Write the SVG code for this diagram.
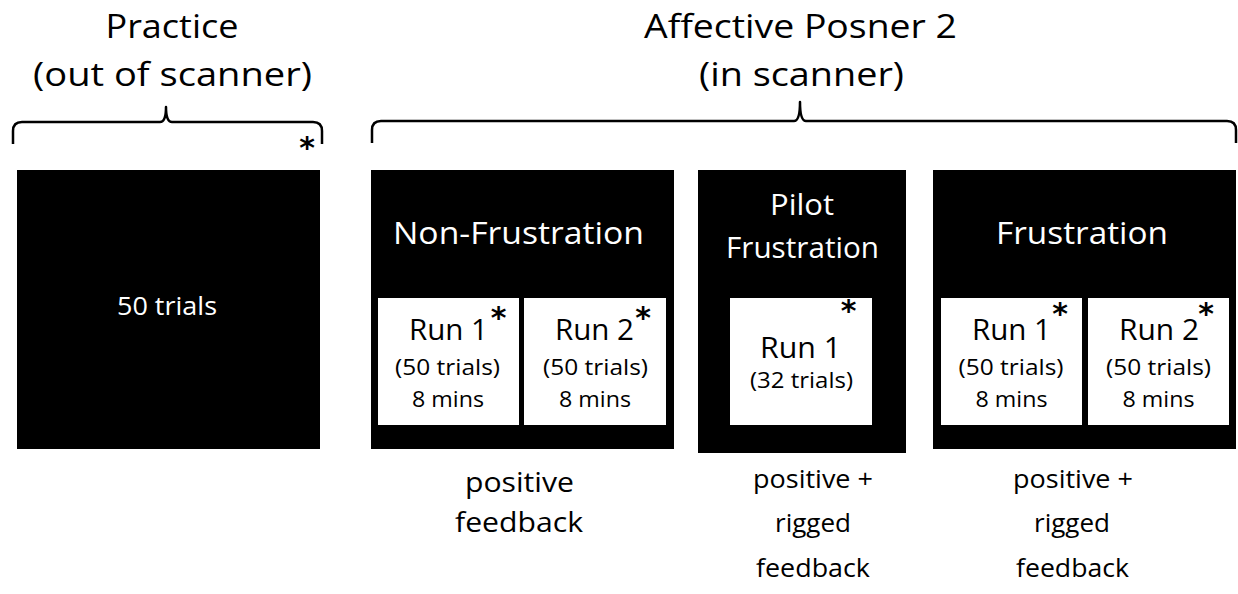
<svg xmlns="http://www.w3.org/2000/svg" width="1238" height="594" viewBox="0 0 1238 594">
<style>
text { font-family: "Open Sans", "Noto Sans", sans-serif; text-anchor: middle; fill: #000; }
.wt { fill: #fff; }
.blk { fill: #000; }
.wbox { fill: #fff; }
.ast { font-family: "DejaVu Sans", sans-serif; font-size: 30px; font-weight: bold; }
.brace { fill: none; stroke: #000; stroke-width: 2.5; stroke-linejoin: round; }
.h { font-size: 33px; }
.title { font-size: 31px; }
.run { font-size: 29px; }
.sub { font-size: 22px; }
.fb { font-size: 27px; }
.fb2 { font-size: 25px; }
</style>
<rect width="1238" height="594" fill="#fff"/>

<g id="connectors">
  <path class="brace" d="M13,144 L13,131 Q13,122 22,122 L160,122 Q166,122 166,107 Q166,122 172,122 L313,122 Q322,122 322,131 L322,144"/>
  <path class="brace" d="M372,143 L372,130 Q372,121 381,121 L794,121 Q800,121 800,102 Q800,121 806,121 L1227,121 Q1236,121 1236,130 L1236,143"/>
</g>

<g id="header-practice">
  <text class="h" x="172" y="38" textLength="133" lengthAdjust="spacingAndGlyphs">Practice</text>
  <text class="h" x="172.5" y="86" textLength="279" lengthAdjust="spacingAndGlyphs">(out of scanner)</text>
  <text class="ast" x="307" y="158">*</text>
</g>

<g id="header-posner">
  <text class="h" x="800.5" y="38" textLength="313" lengthAdjust="spacingAndGlyphs">Affective Posner 2</text>
  <text class="h" x="801.5" y="86" textLength="205" lengthAdjust="spacingAndGlyphs">(in scanner)</text>
</g>

<g id="practice">
  <rect class="blk" x="17" y="170" width="303" height="279"/>
  <text class="wt" x="167" y="315" font-size="26" textLength="100" lengthAdjust="spacingAndGlyphs">50 trials</text>
</g>

<g id="non-frustration">
  <rect class="blk" x="371" y="170" width="303" height="279"/>
  <text class="wt title" x="518.5" y="244" textLength="251" lengthAdjust="spacingAndGlyphs">Non-Frustration</text>
  <rect class="wbox" x="378" y="298" width="141" height="127"/>
  <rect class="wbox" x="524" y="298" width="142" height="127"/>
  <text class="run" x="448.5" y="340" textLength="79" lengthAdjust="spacingAndGlyphs">Run 1</text>
  <text class="sub" x="447.5" y="375" textLength="105" lengthAdjust="spacingAndGlyphs">(50 trials)</text>
  <text class="sub" x="448" y="407" textLength="72" lengthAdjust="spacingAndGlyphs">8 mins</text>
  <text class="ast" x="498.5" y="328">*</text>
  <text class="run" x="594.5" y="340" textLength="79" lengthAdjust="spacingAndGlyphs">Run 2</text>
  <text class="sub" x="595.5" y="375" textLength="105" lengthAdjust="spacingAndGlyphs">(50 trials)</text>
  <text class="sub" x="595" y="407" textLength="72" lengthAdjust="spacingAndGlyphs">8 mins</text>
  <text class="ast" x="643" y="328">*</text>
  <text class="fb" x="519.5" y="492" textLength="109" lengthAdjust="spacingAndGlyphs">positive</text>
  <text class="fb" x="519" y="532" textLength="128" lengthAdjust="spacingAndGlyphs">feedback</text>
</g>

<g id="pilot-frustration">
  <rect class="blk" x="698" y="170" width="208" height="283"/>
  <text class="wt run" x="802" y="215" textLength="64" lengthAdjust="spacingAndGlyphs">Pilot</text>
  <text class="wt run" x="802.5" y="258" textLength="153" lengthAdjust="spacingAndGlyphs">Frustration</text>
  <rect class="wbox" x="730" y="298" width="142" height="127"/>
  <text class="run" x="800.5" y="358" textLength="81" lengthAdjust="spacingAndGlyphs">Run 1</text>
  <text class="sub" x="801.5" y="388" textLength="103" lengthAdjust="spacingAndGlyphs">(32 trials)</text>
  <text class="ast" x="848.5" y="321">*</text>
  <text class="fb2" x="813" y="488" textLength="120" lengthAdjust="spacingAndGlyphs">positive +</text>
  <text class="fb2" x="813" y="532" textLength="76" lengthAdjust="spacingAndGlyphs">rigged</text>
  <text class="fb2" x="813" y="577" textLength="114" lengthAdjust="spacingAndGlyphs">feedback</text>
</g>

<g id="frustration">
  <rect class="blk" x="933" y="170" width="303" height="279"/>
  <text class="wt title" x="1082" y="244" textLength="172" lengthAdjust="spacingAndGlyphs">Frustration</text>
  <rect class="wbox" x="941" y="298" width="141" height="127"/>
  <rect class="wbox" x="1088" y="298" width="141" height="127"/>
  <text class="run" x="1011.5" y="340" textLength="79" lengthAdjust="spacingAndGlyphs">Run 1</text>
  <text class="sub" x="1011" y="375" textLength="105" lengthAdjust="spacingAndGlyphs">(50 trials)</text>
  <text class="sub" x="1011.5" y="407" textLength="72" lengthAdjust="spacingAndGlyphs">8 mins</text>
  <text class="ast" x="1060" y="324">*</text>
  <text class="run" x="1159" y="340" textLength="80" lengthAdjust="spacingAndGlyphs">Run 2</text>
  <text class="sub" x="1158.5" y="375" textLength="105" lengthAdjust="spacingAndGlyphs">(50 trials)</text>
  <text class="sub" x="1158.5" y="407" textLength="72" lengthAdjust="spacingAndGlyphs">8 mins</text>
  <text class="ast" x="1206" y="324">*</text>
  <text class="fb2" x="1073" y="488" textLength="120" lengthAdjust="spacingAndGlyphs">positive +</text>
  <text class="fb2" x="1072" y="532" textLength="76" lengthAdjust="spacingAndGlyphs">rigged</text>
  <text class="fb2" x="1072.5" y="577" textLength="113" lengthAdjust="spacingAndGlyphs">feedback</text>
</g>
</svg>
